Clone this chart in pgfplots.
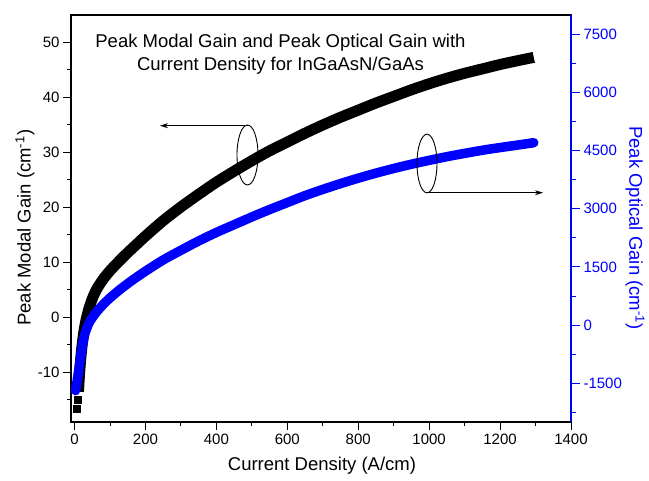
\documentclass[border=0pt]{standalone}
\usepackage{fontspec}
\setmainfont{Liberation Sans}
\usepackage{pgfplots}
\pgfplotsset{compat=1.18}
\usetikzlibrary{arrows.meta}
\definecolor{myblue}{RGB}{0,0,255}

\begin{document}
\begin{tikzpicture}[x=1pt,y=1pt]
\useasboundingbox (0,0) rectangle (649,481);
\begin{axis}[
  at={(71pt,59pt)}, anchor=south west,
  scale only axis, width=500pt, height=407pt,
  xmin=-10, xmax=1400, ymin=-19, ymax=55,
  xtick={0,200,...,1400}, minor xtick={100,300,...,1300},
  ytick={-10,0,...,50}, minor ytick={-15,-5,...,45},
  tick pos=left, tick align=outside,
  major tick length=8pt, minor tick length=4.5pt,
  axis line style={line width=1.2pt},
  every tick/.style={black, line width=1pt},
  tick label style={font=\fontsize{15}{17}\selectfont},
  /pgf/number format/assume math mode=true,
  /pgf/number format/1000 sep={},
  xlabel={Current Density (A/cm)},
  ylabel={Peak Modal Gain (cm\textsuperscript{-1})},
  label style={font=\fontsize{18.5}{22}\selectfont},
  xlabel style={at={(axis description cs:0.502,-0.108)}, anchor=center},
  ylabel style={at={(axis description cs:-0.092,0.477)}, anchor=center},
]
\addplot[only marks, mark=square*, mark size=3.6pt, black] table {
7 -16.6
9 -15.0
};
\addplot[black, line width=11pt, line join=round, smooth] table {
11 -13.5
13 -11.3
16 -8.6
20 -5.8
25 -3.2
31 -0.9
40 1.5
50 3.4
62 5.1
80 6.9
100 8.5
125 10.2
150 11.8
175 13.3
200 14.8
250 17.6
300 20.1
350 22.4
400 24.6
450 26.6
500 28.5
550 30.3
600 31.9
650 33.5
700 35.0
750 36.4
800 37.7
850 39.0
900 40.2
950 41.4
1000 42.5
1050 43.5
1100 44.4
1150 45.2
1200 46.0
1250 46.7
1295 47.3
};
\end{axis}
\begin{axis}[
  at={(71pt,59pt)}, anchor=south west,
  scale only axis, width=500pt, height=407pt,
  xmin=-10, xmax=1400, ymin=-2500, ymax=8000,
  axis y line*=right, axis x line=none,
  ytick={-1500,0,...,7500}, minor ytick={-2250,-750,...,6750},
  tick align=outside, major tick length=9pt, minor tick length=5pt,
  y axis line style={-, myblue, line width=1.2pt},
  every tick/.style={myblue, line width=1pt},
  yticklabel style={myblue, font=\fontsize{15}{17}\selectfont},
  /pgf/number format/assume math mode=true,
  /pgf/number format/1000 sep={},
  ylabel={Peak Optical Gain (cm\textsuperscript{-1})},
  every axis y label/.style={at={(axis description cs:1.128,0.477)}, anchor=center, rotate=-90, text=myblue, font=\fontsize{18.5}{22}\selectfont},
]
\addplot[myblue, line width=9.5pt, line cap=round, line join=round, smooth] table {
3 -1690
5 -1570
8 -1400
12 -1150
16 -900
20 -650
25 -400
30 -200
40 40
50 191
65 371
85 571
105 741
130 931
160 1138
200 1390
250 1680
300 1930
350 2170
400 2390
450 2590
500 2790
550 2980
600 3160
650 3340
700 3500
750 3650
800 3790
850 3920
900 4040
950 4150
1000 4250
1050 4345
1100 4430
1150 4510
1200 4580
1250 4645
1295 4705
};
\end{axis}
\node[anchor=base, font=\fontsize{18.5}{22}\selectfont] at (280.5,433.3) {Peak Modal Gain and Peak Optical Gain with};
\node[anchor=base, font=\fontsize{18.5}{22}\selectfont] at (280.5,410.3) {Current Density for InGaAsN/GaAs};
\draw[line width=0.9pt] (247.5,326) ellipse [x radius=10.5, y radius=30];
\draw[line width=0.9pt, -{Stealth[length=8pt,width=5pt]}] (248,355.3) -- (160,355.3);
\draw[line width=0.9pt] (427,317.5) ellipse [x radius=10, y radius=29.3];
\draw[line width=0.9pt, -{Stealth[length=8pt,width=5pt]}] (428,288.3) -- (543,288.3);
\end{tikzpicture}
\end{document}
